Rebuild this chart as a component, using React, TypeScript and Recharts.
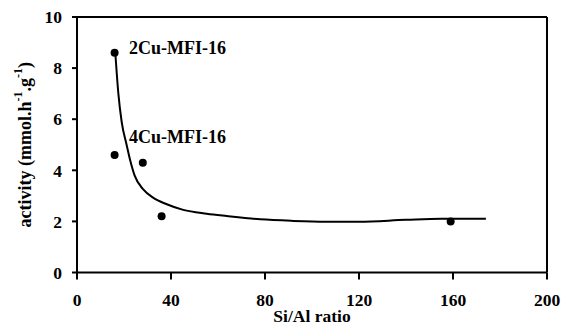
import React from 'react';
import { ComposedChart, Line, Scatter, XAxis, YAxis, ReferenceLine, ReferenceDot } from 'recharts';

const siAlRatio = [16, 16, 28, 36, 159];
const activity = [8.6, 4.6, 4.3, 2.2, 2.0];
const fitX = [16.3, 17.6, 19.0, 21.1, 22.6, 24.5, 28.2, 32.5, 38.2, 45.2, 55.2, 63.7, 78, 92, 106, 120, 140, 155, 174];
const fitY = [8.6, 7.0, 5.9, 5.0, 4.4, 3.8, 3.25, 2.92, 2.67, 2.45, 2.3, 2.21, 2.08, 2.02, 1.99, 1.99, 2.06, 2.1, 2.1];
const xTicks = [0, 40, 80, 120, 160, 200];
const yTicks = [0, 2, 4, 6, 8, 10];
const annotations = [
  { x: 20, y: 8.8, text: '2Cu-MFI-16' },
  { x: 20, y: 5.3, text: '4Cu-MFI-16' },
];

const points = siAlRatio.map((x, i) => ({ x, y: activity[i] }));
const curve = fitX.map((x, i) => ({ x, y: fitY[i] }));

const FONT = '"Liberation Serif", "Times New Roman", serif';
const tickStyle = { fill: '#000', fontSize: 17.5, fontWeight: 'bold', fontFamily: FONT };

const Dot = (props: any) => <circle cx={props.cx} cy={props.cy} r={4} fill="#000" />;

const YLabel = (props: any) => {
  const vb = props.viewBox || {};
  const cx = 25;
  const cy = (vb.y ?? 0) + (vb.height ?? 0) / 2;
  return (
    <text
      x={cx}
      y={cy}
      transform={`rotate(-90, ${cx}, ${cy})`}
      textAnchor="middle"
      dominantBaseline="central"
      fill="#000"
      fontSize={18}
      fontWeight="bold"
      fontFamily={FONT}
    >
      activity (mmol.h<tspan dy={-7} fontSize={12}>-1</tspan>
      <tspan dy={7}>.g</tspan>
      <tspan dy={-7} fontSize={12}>-1</tspan>
      <tspan dy={7}>)</tspan>
    </text>
  );
};

const XLabel = (props: any) => {
  const vb = props.viewBox || {};
  const cx = (vb.x ?? 0) + (vb.width ?? 0) / 2;
  return (
    <text x={cx} y={322} textAnchor="middle" fill="#000" fontSize={17.5} fontWeight="bold" fontFamily={FONT}>
      Si/Al ratio
    </text>
  );
};

export default function App() {
  return (
    <div style={{ position: 'absolute', left: 0, top: 0, width: 562, height: 326, background: '#fff' }}>
      <ComposedChart width={562} height={326} margin={{ top: 17, right: 15, bottom: 0, left: 0 }}>
        <XAxis
          type="number"
          dataKey="x"
          domain={[0, 200]}
          ticks={xTicks}
          height={53.5}
          tick={tickStyle}
          tickSize={7}
          tickMargin={14}
          axisLine={{ stroke: '#000', strokeWidth: 2 }}
          tickLine={{ stroke: '#000', strokeWidth: 2 }}
          label={{ content: XLabel }}
          allowDataOverflow
        />
        <YAxis
          type="number"
          dataKey="y"
          domain={[0, 10]}
          ticks={yTicks}
          width={77}
          tick={tickStyle}
          tickSize={5}
          tickMargin={10}
          axisLine={{ stroke: '#000', strokeWidth: 2 }}
          tickLine={{ stroke: '#000', strokeWidth: 2 }}
          label={{ content: YLabel }}
          allowDataOverflow
        />
        <ReferenceLine y={10} stroke="#000" strokeWidth={2} ifOverflow="visible" />
        <ReferenceLine x={200} stroke="#000" strokeWidth={2} ifOverflow="visible" />
        <Line
          data={curve}
          dataKey="y"
          type="monotone"
          stroke="#000"
          strokeWidth={2}
          dot={false}
          activeDot={false}
          isAnimationActive={false}
        />
        <Scatter data={points} dataKey="y" shape={Dot} isAnimationActive={false} />
        {annotations.map((a) => (
          <ReferenceDot
            key={a.text}
            x={a.x}
            y={a.y}
            r={0}
            stroke="none"
            fill="none"
            label={{ value: a.text, position: 'right', offset: 5, fill: '#000', fontSize: 18, fontWeight: 'bold', fontFamily: FONT }}
          />
        ))}
      </ComposedChart>
    </div>
  );
}
